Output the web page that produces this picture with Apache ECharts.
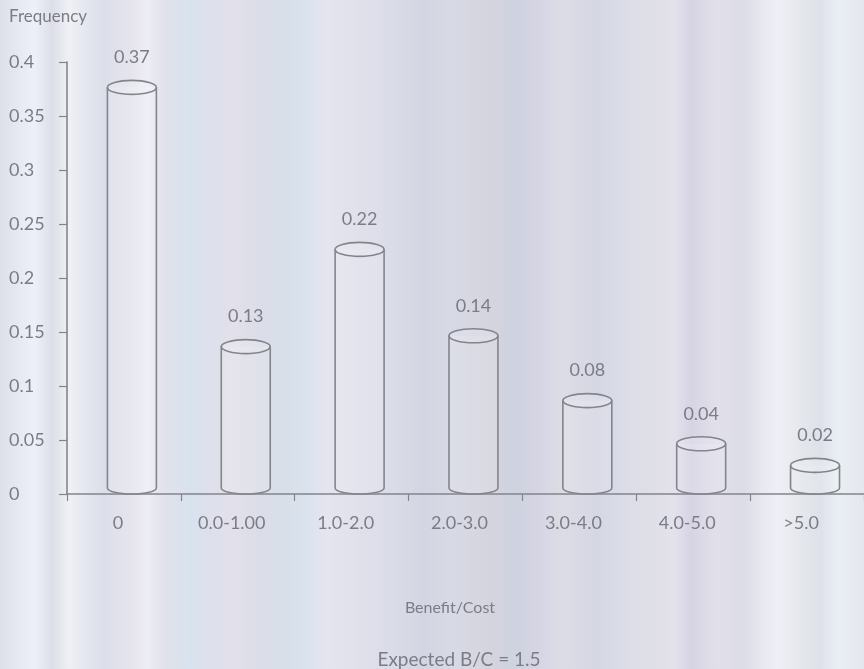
<!DOCTYPE html>
<html>
<head>
<meta charset="utf-8">
<script src="https://cdn.jsdelivr.net/npm/echarts@6/dist/echarts.min.js"></script>
<style>
  html, body { margin: 0; padding: 0; }
  #chart { width: 864px; height: 669px; }
</style>
</head>
<body>
<div id="chart"></div>
<script>
// Benefit/cost distribution
const categories = ['0', '0.0-1.00', '1.0-2.0', '2.0-3.0', '3.0-4.0', '4.0-5.0', '>5.0'];
const frequency = [0.37, 0.13, 0.22, 0.14, 0.08, 0.04, 0.02];
const yTicks = { min: 0, max: 0.4, interval: 0.05 };

const INK = '#84848c';
const TEXT = '#7c7c86';
const FONT = 'Lato, "Open Sans", sans-serif';

// soft vertical banding of the backdrop
const bands = [
  [0.00, '#dde0ea'], [0.04, '#eef0f9'], [0.06, '#dcdee8'], [0.08, '#f0f0f4'],
  [0.10, '#e4e7f0'], [0.12, '#dcdfe9'], [0.15, '#e4e4ed'], [0.17, '#eeedf6'],
  [0.19, '#e1e2eb'], [0.22, '#d8e2ee'], [0.25, '#dfe0eb'], [0.27, '#e3e0ea'],
  [0.30, '#dbdde7'], [0.33, '#d7dfe8'], [0.36, '#dce3f0'], [0.38, '#e5e5ef'],
  [0.42, '#dfe0ea'], [0.46, '#d9dbe7'], [0.49, '#d3d6e2'], [0.52, '#d7dae5'],
  [0.57, '#d4d4de'], [0.60, '#cdd3e0'], [0.62, '#d6d4e4'], [0.65, '#dcdce5'],
  [0.69, '#d5d7e3'], [0.72, '#dadce8'], [0.75, '#dfdfe7'], [0.78, '#e3e2ec'],
  [0.80, '#d6d4e4'], [0.83, '#e1e0ea'], [0.86, '#dcdce7'], [0.88, '#e7e7f0'],
  [0.90, '#eef0f6'], [0.93, '#e3e6ea'], [0.95, '#dfe1ea'], [0.97, '#e8eff3'],
  [1.00, '#e5e6ef']
];

const chart = echarts.init(document.getElementById('chart'));

function renderCylinder(params, api) {
  const idx = api.value(0);
  const val = api.value(1);
  const top = api.coord([idx, val]);
  const base = api.coord([idx, 0]);
  const band = api.size([1, 0])[0];
  const w = band * 0.43;
  const cx = top[0] + band * 0.07;
  const rx = w / 2;
  const ry = 7;
  const ryb = 6;
  const capY = top[1] - ry;
  const left = cx - rx, right = cx + rx;
  const bottomY = base[1];
  const bodyPath =
    'M' + left + ',' + capY +
    'L' + left + ',' + (bottomY - ryb) +
    'A' + rx + ',' + ryb + ',0,0,0,' + right + ',' + (bottomY - ryb) +
    'L' + right + ',' + capY;
  return {
    type: 'group',
    children: [
      {
        type: 'path',
        shape: { pathData: bodyPath },
        style: { fill: 'rgba(255,255,255,0.12)', stroke: INK, lineWidth: 1.6 }
      },
      {
        type: 'ellipse',
        shape: { cx: cx, cy: capY, rx: rx, ry: ry },
        style: { fill: 'rgba(255,255,255,0.15)', stroke: INK, lineWidth: 1.6 }
      },
      {
        type: 'text',
        style: {
          x: cx, y: top[1] - 37,
          text: val.toFixed(2),
          align: 'center', verticalAlign: 'middle',
          fill: TEXT, font: '18px ' + FONT
        }
      }
    ]
  };
}

function caption(text, x, y, size, align) {
  return {
    type: 'text', x: x, y: y,
    style: {
      text: text, fill: TEXT, font: size + 'px ' + FONT,
      align: align, verticalAlign: 'middle'
    }
  };
}

const option = {
  animation: false,
  backgroundColor: new echarts.graphic.LinearGradient(0, 0, 1, 0,
    bands.map(b => ({ offset: b[0], color: b[1] }))),
  textStyle: { fontFamily: FONT },
  graphic: [
    caption('Frequency', 9, 17, 17, 'left'),
    caption('Benefit/Cost', 450, 608, 16, 'center'),
    caption('Expected B/C = 1.5', 459, 660, 19, 'center')
  ],
  grid: { left: 67, right: 0, top: 62, bottom: 175, containLabel: false },
  xAxis: {
    type: 'category',
    data: categories,
    axisLine: { show: true, lineStyle: { color: INK, width: 1.6 } },
    axisTick: { show: true, length: 7, lineStyle: { color: INK, width: 1.2 } },
    axisLabel: {
      color: TEXT, fontSize: 18, fontFamily: FONT, margin: 20,
      padding: [0, 12, 0, 0]
    },
    splitLine: { show: false }
  },
  yAxis: {
    type: 'value',
    min: yTicks.min, max: yTicks.max, interval: yTicks.interval,
    axisLine: { show: true, lineStyle: { color: INK, width: 1.6 } },
    axisTick: { show: true, length: 8, lineStyle: { color: INK, width: 1.2 } },
    axisLabel: {
      color: TEXT, fontSize: 18, fontFamily: FONT,
      align: 'left', margin: 58,
      formatter: v => String(+v.toFixed(2))
    },
    splitLine: { show: false }
  },
  series: [{
    type: 'custom',
    renderItem: renderCylinder,
    encode: { x: 0, y: 1 },
    data: frequency.map((v, i) => [i, v]),
    clip: false
  }]
};

chart.setOption(option);
</script>
</body>
</html>
